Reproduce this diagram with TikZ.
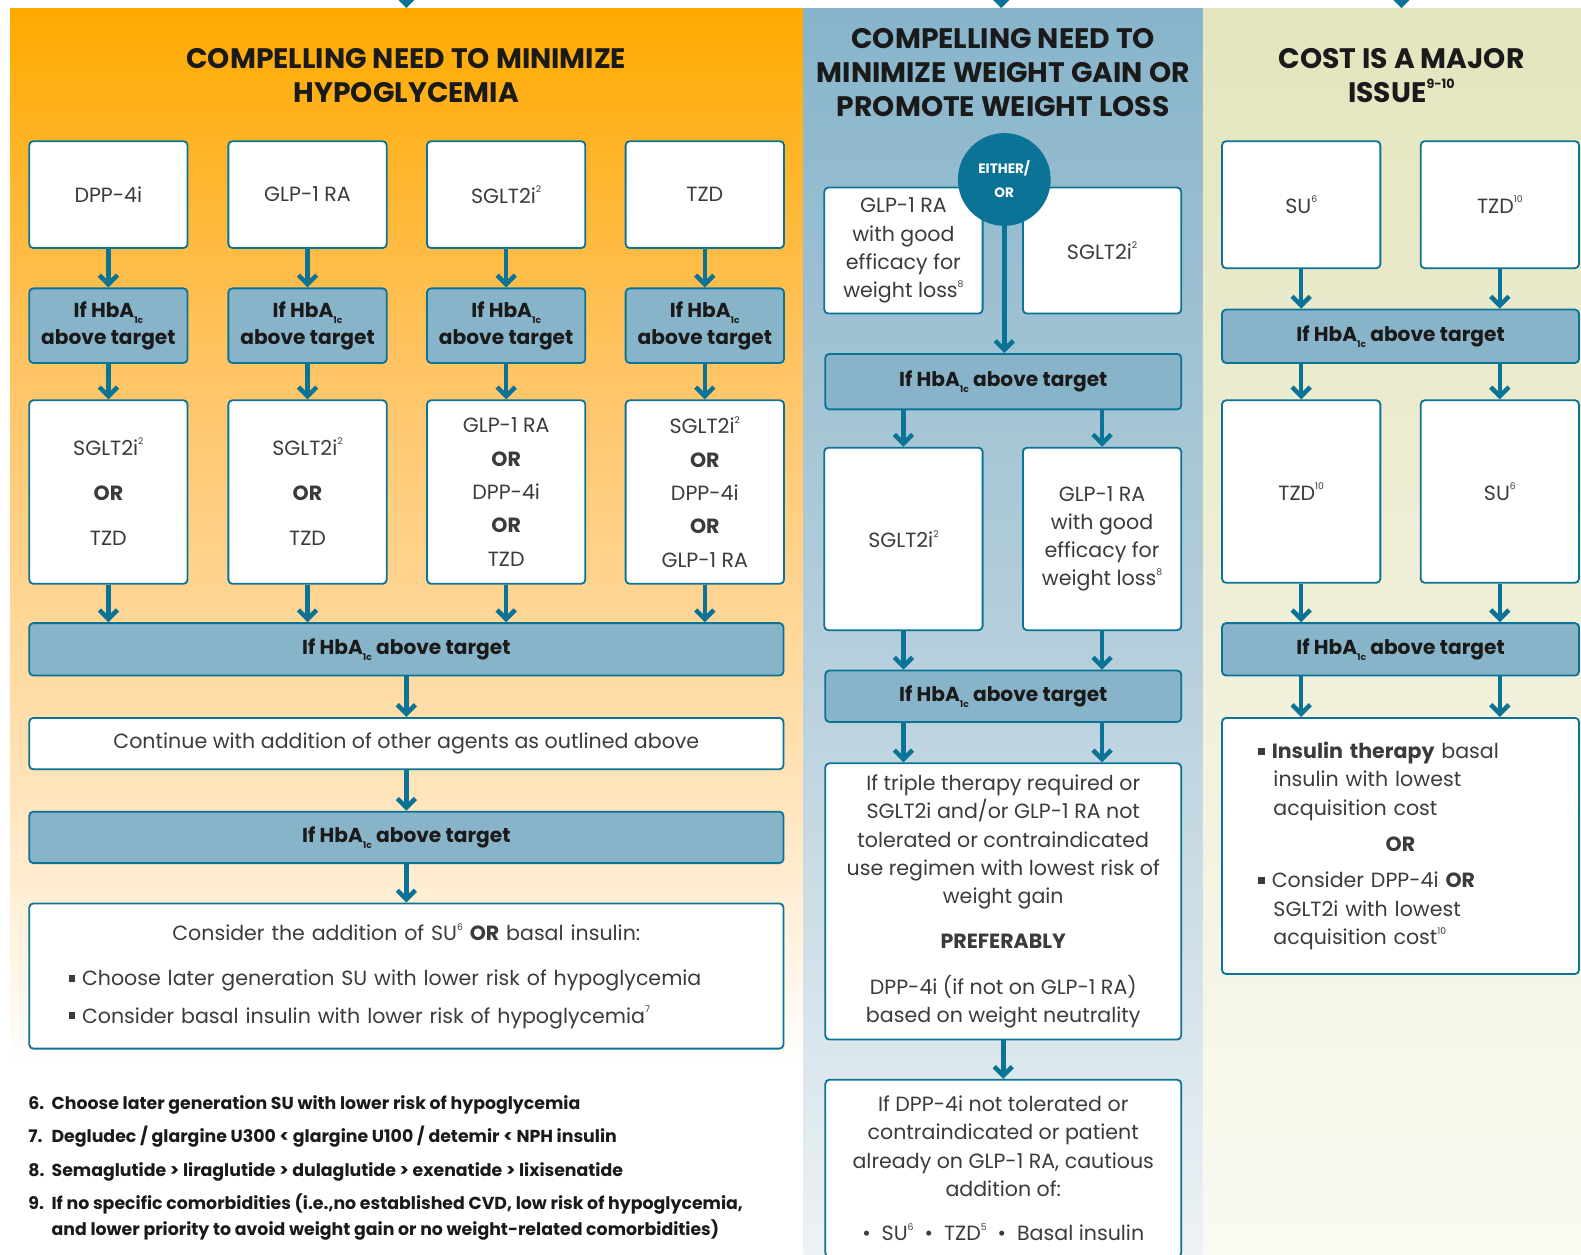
\documentclass[tikz,border=0pt]{standalone}
\usepackage{fontspec}
\setmainfont{Poppins}
\usepackage{xcolor}
\usepackage{graphicx}
\usetikzlibrary{arrows.meta}
\definecolor{dkteal}{HTML}{0B7396}
\definecolor{hbafill}{HTML}{88B4C9}
\definecolor{orgtop}{HTML}{FFAA00}
\definecolor{orgmid}{HTML}{FFC568}
\definecolor{orglow}{HTML}{FFE0B0}
\definecolor{blutop}{HTML}{87B4CA}
\definecolor{blumid}{HTML}{B6CFDC}
\definecolor{blulow}{HTML}{EDF2F5}
\definecolor{begtop}{HTML}{E4E5BE}
\definecolor{begmid}{HTML}{F0F0DA}
\definecolor{beglow}{HTML}{FAFAF2}
\definecolor{txtgray}{HTML}{3B3B3B}
\definecolor{txtdark}{HTML}{1A1A1A}
\newcommand{\sups}[1]{\raisebox{0.5em}{\scalebox{0.45}{#1}}}
\newcommand{\subs}[1]{\raisebox{-0.3em}{\scalebox{0.45}{#1}}}
\newcommand{\hbaline}{If HbA\subs{1c} above target}
\newcommand{\sqbul}{\rule[0.2em]{0.32em}{0.32em}}

\begin{document}
\begin{tikzpicture}[x=1pt, y=-1pt,
  agent/.style={draw=dkteal, line width=1.8pt, fill=white, rounded corners=4pt, minimum width=157pt, inner sep=2pt, align=center, text=txtgray, font=\fontsize{20.4}{28}\selectfont},
  hba/.style={draw=dkteal, line width=1.8pt, fill=hbafill, rounded corners=4pt, minimum width=157pt, inner sep=2pt, align=center, text=txtdark, font=\bfseries\fontsize{20}{27}\selectfont},
  flow/.style={draw=dkteal, line width=4.5pt, -{Straight Barb[length=9pt, width=18pt]}},
  head/.style={align=center, text=txtdark, font=\bfseries\fontsize{28}{34}\selectfont}]
  \useasboundingbox (0,0) rectangle (1568,1244);
  \clip (0,0) rectangle (1568,1244);
  \fill[white] (0,0) rectangle (1568,1244);
  \shade[top color=orgtop, bottom color=orgmid] (10,8) rectangle (797,381);
  \shade[top color=orgmid, bottom color=orglow] (10,380) rectangle (797,741);
  \shade[top color=orglow, bottom color=white] (10,740) rectangle (797,1060);
  \shade[top color=blutop, bottom color=blumid] (797,8) rectangle (1193,651);
  \shade[top color=blumid, bottom color=blulow] (797,650) rectangle (1193,1244);
  \shade[top color=begtop, bottom color=begmid] (1193,8) rectangle (1568,651);
  \shade[top color=begmid, bottom color=beglow] (1193,650) rectangle (1568,1244);

  \coordinate (inA) at (403,-14);
  \coordinate (inB) at (993,-14);
  \coordinate (inC) at (1390,-14);
  \draw[flow] (inA) -- (inA |- 0,8);
  \draw[flow] (inB) -- (inB |- 0,8);
  \draw[flow] (inC) -- (inC |- 0,8);

  \node[head] (hd1) at (403,75) {COMPELLING NEED TO MINIMIZE\\HYPOGLYCEMIA};
  \node[head] (hd2) at (995,72) {COMPELLING NEED TO\\MINIMIZE WEIGHT GAIN OR\\PROMOTE WEIGHT LOSS};
  \node[head] (hd3) at (1390,75) {COST IS A MAJOR\\ISSUE\sups{9-10}};

  \node[agent, minimum height=106pt] (o1a) at (107.5,193) {DPP-4i};
  \node[agent, minimum height=106pt] (o2a) at (305,193) {GLP-1 RA};
  \node[agent, minimum height=106pt] (o3a) at (502,193) {SGLT2i\sups{2}};
  \node[agent, minimum height=106pt] (o4a) at (699,193) {TZD};
  \node[hba, minimum height=74pt] (o1b) at (107.5,323) {If HbA\subs{1c}\\above target};
  \node[hba, minimum height=74pt] (o2b) at (305,323) {If HbA\subs{1c}\\above target};
  \node[hba, minimum height=74pt] (o3b) at (502,323) {If HbA\subs{1c}\\above target};
  \node[hba, minimum height=74pt] (o4b) at (699,323) {If HbA\subs{1c}\\above target};
  \node[agent, minimum height=182pt] (o1c) at (107.5,488) {SGLT2i\sups{2}\\[17pt]\textbf{OR}\\[17pt]TZD};
  \node[agent, minimum height=182pt] (o2c) at (305,488) {SGLT2i\sups{2}\\[17pt]\textbf{OR}\\[17pt]TZD};
  \node[agent, minimum height=182pt] (o3c) at (502,488) {GLP-1 RA\\[5pt]\textbf{OR}\\[5pt]DPP-4i\\[5pt]\textbf{OR}\\[5pt]TZD};
  \node[agent, minimum height=182pt] (o4c) at (699,488) {SGLT2i\sups{2}\\[5pt]\textbf{OR}\\[5pt]DPP-4i\\[5pt]\textbf{OR}\\[5pt]GLP-1 RA};
  \node[hba, minimum width=748pt, minimum height=52pt] (ohba1) at (403,644) {\hbaline};
  \node[agent, minimum width=748pt, minimum height=51pt] (ocont) at (403,737.5) {Continue with addition of other agents as outlined above};
  \node[hba, minimum width=748pt, minimum height=51pt] (ohba2) at (403,830.5) {\hbaline};
  \node[agent, minimum height=144pt, text width=670pt, inner xsep=39pt, align=left] (ocons) at (403,968) {\makebox[670pt][c]{Consider the addition of SU\sups{6} \textbf{OR} basal insulin:}\\[17pt]\sqbul\ Choose later generation SU with lower risk of hypoglycemia\\[9pt]\sqbul\ Consider basal insulin with lower risk of hypoglycemia\sups{7}};

  \draw[flow] (o1a.south) -- (o1b.north);
  \draw[flow] (o2a.south) -- (o2b.north);
  \draw[flow] (o3a.south) -- (o3b.north);
  \draw[flow] (o4a.south) -- (o4b.north);
  \draw[flow] (o1b.south) -- (o1c.north);
  \draw[flow] (o2b.south) -- (o2c.north);
  \draw[flow] (o3b.south) -- (o3c.north);
  \draw[flow] (o4b.south) -- (o4c.north);
  \draw[flow] (o1c.south) -- (o1c.south |- ohba1.north);
  \draw[flow] (o2c.south) -- (o2c.south |- ohba1.north);
  \draw[flow] (o3c.south) -- (o3c.south |- ohba1.north);
  \draw[flow] (o4c.south) -- (o4c.south |- ohba1.north);
  \draw[flow] (ohba1.south) -- (ocont.north);
  \draw[flow] (ocont.south) -- (ohba2.north);
  \draw[flow] (ohba2.south) -- (ocons.north);

  \node[anchor=north west, inner sep=0pt, text=txtdark, font=\bfseries\fontsize{17.2}{26}\selectfont] (notes) at (28,1082) {\begin{tabular}{@{}l@{\hspace{7pt}}l@{}}
    6. & Choose later generation SU with lower risk of hypoglycemia\\[7pt]
    7. & Degludec / glargine U300 < glargine U100 / detemir < NPH insulin\\[7pt]
    8. & Semaglutide > liraglutide > dulaglutide > exenatide > lixisenatide\\[7pt]
    9. & If no specific comorbidities (i.e.,no established CVD, low risk of hypoglycemia,\\
       & and lower priority to avoid weight gain or no weight-related comorbidities)
  \end{tabular}};

  \node[agent, minimum height=125pt] (b1a) at (896,248.5) {GLP-1 RA\\with good\\efficacy for\\weight loss\sups{8}};
  \node[agent, minimum height=125pt] (b2a) at (1093,248.5) {SGLT2i\sups{2}};
  \node[circle, fill=dkteal, minimum size=92pt, inner sep=0pt, align=center, text=white, font=\bfseries\fontsize{13.5}{24}\selectfont] (either) at (996,178) {EITHER/\\OR};
  \node[hba, minimum width=353pt, minimum height=55pt] (bhba1) at (995,378.5) {\hbaline};
  \node[agent, minimum height=181pt] (b1b) at (896,534.5) {SGLT2i\sups{2}};
  \node[agent, minimum height=181pt] (b2b) at (1093,534.5) {GLP-1 RA\\with good\\efficacy for\\weight loss\sups{8}};
  \node[hba, minimum width=353pt, minimum height=51pt] (bhba2) at (995,690.5) {\hbaline};
  \node[agent, minimum width=353pt, minimum height=274pt] (bplan) at (995,894) {If triple therapy required or\\SGLT2i and/or GLP-1 RA not\\tolerated or contraindicated\\use regimen with lowest risk of\\weight gain\\[17pt]\textbf{PREFERABLY}\\[17pt]DPP-4i (if not on GLP-1 RA)\\based on weight neutrality};
  \node[agent, anchor=north, minimum width=353pt, inner ysep=16pt] (bcaut) at (995,1070) {If DPP-4i not tolerated or\\contraindicated or patient\\already on GLP-1 RA, cautious\\addition of:\\[16pt]\textbullet\ \ SU\sups{6} \ \textbullet\ \ TZD\sups{5} \ \textbullet\ \ Basal insulin};

  \draw[flow] (either.south) -- (either.south |- bhba1.north);
  \draw[flow] (b1b.north |- bhba1.south) -- (b1b.north);
  \draw[flow] (b2b.north |- bhba1.south) -- (b2b.north);
  \draw[flow] (b1b.south) -- (b1b.south |- bhba2.north);
  \draw[flow] (b2b.south) -- (b2b.south |- bhba2.north);
  \draw[flow] (b1b.south |- bhba2.south) -- (b1b.south |- bplan.north);
  \draw[flow] (b2b.south |- bhba2.south) -- (b2b.south |- bplan.north);
  \draw[flow] (bplan.south) -- (bcaut.north);

  \node[agent, minimum height=126pt] (c1a) at (1290.5,203) {SU\sups{6}};
  \node[agent, minimum height=126pt] (c2a) at (1487.5,203) {TZD\sups{10}};
  \node[hba, minimum width=354pt, minimum height=53pt] (chba1) at (1389,333.5) {\hbaline};
  \node[agent, minimum height=181pt] (c1b) at (1290.5,487.5) {TZD\sups{10}};
  \node[agent, minimum height=181pt] (c2b) at (1487.5,487.5) {SU\sups{6}};
  \node[hba, minimum width=354pt, minimum height=52pt] (chba2) at (1389,644) {\hbaline};
  \node[agent, minimum height=254pt, text width=282pt, inner xsep=36pt, align=left] (copt) at (1389,839) {\sqbul\ \textbf{Insulin therapy} basal\\\hspace*{15pt}insulin with lowest\\\hspace*{15pt}acquisition cost\\[8pt]\makebox[282pt][c]{\textbf{OR}}\\[8pt]\sqbul\ Consider DPP-4i \textbf{OR}\\\hspace*{15pt}SGLT2i with lowest\\\hspace*{15pt}acquisition cost\sups{10}};

  \draw[flow] (c1a.south) -- (c1a.south |- chba1.north);
  \draw[flow] (c2a.south) -- (c2a.south |- chba1.north);
  \draw[flow] (c1b.north |- chba1.south) -- (c1b.north);
  \draw[flow] (c2b.north |- chba1.south) -- (c2b.north);
  \draw[flow] (c1b.south) -- (c1b.south |- chba2.north);
  \draw[flow] (c2b.south) -- (c2b.south |- chba2.north);
  \draw[flow] (c1b.south |- chba2.south) -- (c1b.south |- copt.north);
  \draw[flow] (c2b.south |- chba2.south) -- (c2b.south |- copt.north);
\end{tikzpicture}
\end{document}
